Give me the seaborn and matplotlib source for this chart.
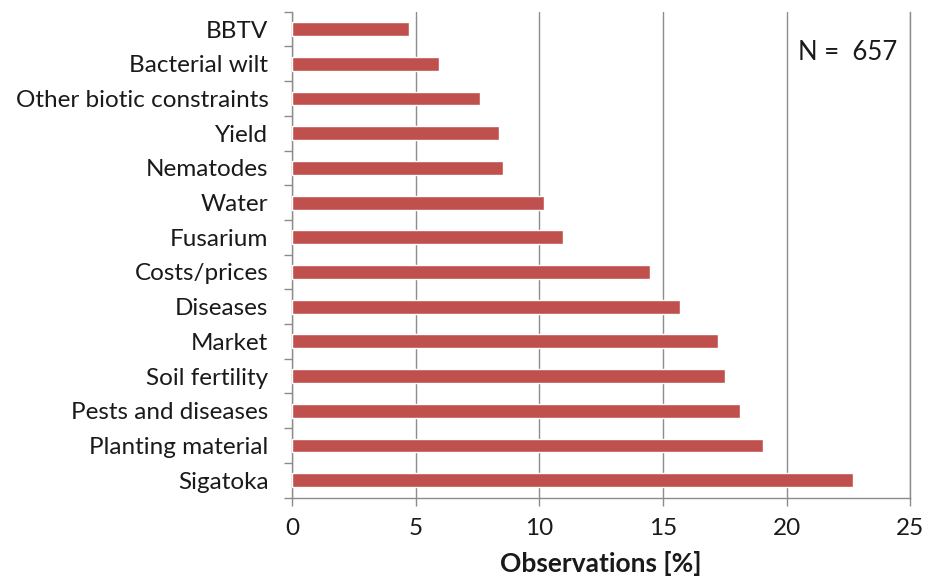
import numpy as np
import pandas as pd
import matplotlib
matplotlib.use("Agg")
import matplotlib.pyplot as plt
import seaborn as sns

constraints = ["BBTV", "Bacterial wilt", "Other biotic constraints", "Yield",
               "Nematodes", "Water", "Fusarium", "Costs/prices", "Diseases",
               "Market", "Soil fertility", "Pests and diseases",
               "Planting material", "Sigatoka"]
observations = [4.72, 5.94, 7.61, 8.37, 8.52, 10.20, 10.96, 14.46, 15.68,
                17.20, 17.50, 18.11, 19.03, 22.68]
x_ticks = [0, 5, 10, 15, 20, 25]
n_total = 657

sns.set_style("white")
plt.rcParams["font.family"] = ["Lato", "DejaVu Sans"]

df = pd.DataFrame({"Constraint": constraints, "Observations": observations})

fig = plt.figure(figsize=(9.3, 5.84), dpi=100)
ax = fig.add_axes([0.314, 0.148, 0.665, 0.832])

sns.barplot(data=df, x="Observations", y="Constraint", orient="h",
            color="#C0504D", saturation=1, width=0.4, ax=ax, zorder=3)

ax.set_xlim(0, 25)
ax.set_xticks(x_ticks)
ax.set_ylim(len(constraints) - 0.5, -0.5)

# Excel-like vertical gridlines
ax.grid(axis="x", color="#8c8c8c", linewidth=1, zorder=0)
ax.grid(axis="y", visible=False)

ax.spines["top"].set_visible(False)
for side in ["left", "bottom", "right"]:
    ax.spines[side].set_color("#8c8c8c")
    ax.spines[side].set_linewidth(1)

# ticks between categories
ax.set_yticks(np.arange(-0.5, len(constraints), 1), minor=True)
ax.tick_params(axis="y", which="major", left=False, length=0, pad=17,
               labelsize=17.5, labelcolor="#1a1a1a")
ax.tick_params(axis="y", which="minor", left=True, length=6,
               color="#8c8c8c", direction="out", width=1)
ax.tick_params(axis="x", which="major", bottom=True, length=6,
               color="#8c8c8c", direction="out", width=1, labelsize=17.5,
               labelcolor="#1a1a1a", pad=9)

ax.set_ylabel("")
ax.set_xlabel("Observations [%]", fontsize=19, fontweight="bold",
              color="#1a1a1a", labelpad=8)

ax.text(0.979, 0.917, f"N =  {n_total}", transform=ax.transAxes,
        ha="right", va="center", fontsize=18.5, color="#1a1a1a")

plt.savefig("out.png", dpi=100)
